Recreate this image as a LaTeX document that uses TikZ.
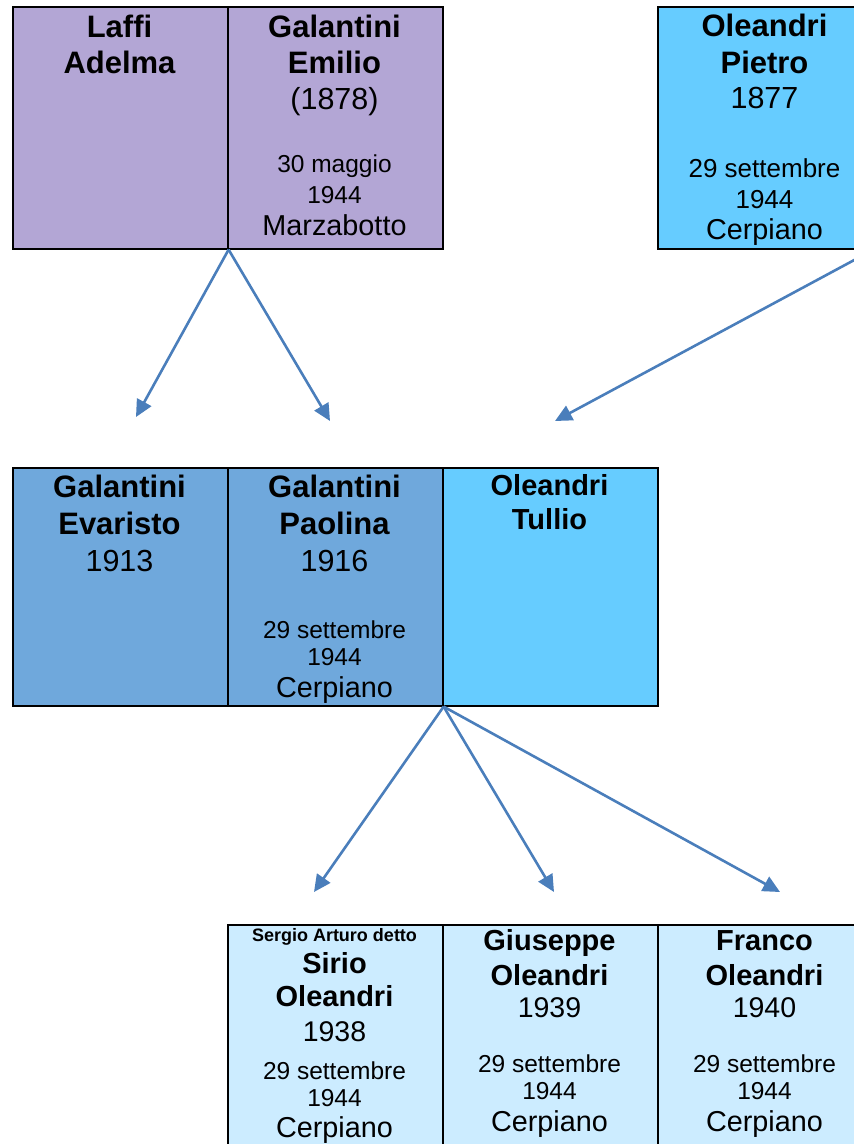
\documentclass[tikz,border=0pt]{standalone}
\usepackage{fontspec}
\setmainfont{Liberation Sans}
\usetikzlibrary{arrows.meta,positioning}
\definecolor{lilla}{HTML}{B3A6D5}
\definecolor{midblue}{HTML}{6FA8DC}
\definecolor{skyblue}{HTML}{66CCFF}
\definecolor{paleblue}{HTML}{CCECFF}
\definecolor{linkblue}{HTML}{4A7EBB}
\tikzset{
  cell/.style={draw=black, line width=1.6pt, minimum width=215pt, inner sep=0pt,
    anchor=north west},
  % text lines, all set on their baseline
  nmbig/.style={anchor=base, inner sep=0pt, font=\fontsize{31}{36}\selectfont\bfseries},
  nmsmall/.style={anchor=base, inner sep=0pt, font=\fontsize{29}{34}\selectfont\bfseries},
  nmtiny/.style={anchor=base, inner sep=0pt, font=\fontsize{18}{20}\selectfont\bfseries},
  yrbig/.style={anchor=base, inner sep=0pt, font=\fontsize{30.5}{36}\selectfont},
  yrsmall/.style={anchor=base, inner sep=0pt, font=\fontsize{28.5}{34}\selectfont},
  dday/.style={anchor=base, inner sep=0pt, font=\fontsize{24.5}{30}\selectfont},
  ddaybig/.style={anchor=base, inner sep=0pt, font=\fontsize{26}{30}\selectfont},
  place/.style={anchor=base, inner sep=0pt, font=\fontsize{28.8}{34}\selectfont},
  link/.style={-{Triangle[length=17pt,width=16pt]}, line width=2.6pt, color=linkblue},
}
\begin{document}
\begin{tikzpicture}[x=1pt,y=-1pt]
  \useasboundingbox (0,0) rectangle (854,1144);
  % first generation
  \node[cell, fill=lilla, minimum height=242pt] (laffi) at (12,6) {};
  \node[cell, fill=lilla, minimum height=242pt] (emilio) at (227,6) {};
  \node[cell, fill=skyblue, minimum height=242pt] (pietro) at (657,6) {};
  % second generation
  \node[cell, fill=midblue, minimum height=238pt] (evaristo) at (12,467) {};
  \node[cell, fill=midblue, minimum height=238pt] (paolina) at (227,467) {};
  \node[cell, fill=skyblue, minimum height=238pt] (tullio) at (442,467) {};
  % third generation
  \node[cell, fill=paleblue, minimum height=236pt] (sirio) at (227,924) {};
  \node[cell, fill=paleblue, minimum height=236pt] (giuseppe) at (442,924) {};
  \node[cell, fill=paleblue, minimum height=236pt] (franco) at (657,924) {};

  \foreach \xx/\yy/\s/\t [count=\k] in {
      119.5/37/nmbig/Laffi, 119.5/73/nmbig/Adelma,
      334.5/37/nmbig/Galantini, 334.5/73/nmbig/Emilio, 334.5/109/yrbig/(1878),
      334.5/172/dday/{30 maggio}, 334.5/203/dday/1944, 334.5/235/place/Marzabotto,
      764.5/36/nmbig/Oleandri, 764.5/73/nmbig/Pietro, 764.5/108/yrbig/1877,
      764.5/177/ddaybig/{29 settembre}, 764.5/208/ddaybig/1944, 764.5/239/place/Cerpiano,
      119.5/497/nmbig/Galantini, 119.5/534/nmbig/Evaristo, 119.5/571/yrbig/1913,
      334.5/497/nmbig/Galantini, 334.5/534/nmbig/Paolina, 334.5/571/yrbig/1916,
      334.5/638/dday/{29 settembre}, 334.5/665/dday/1944, 334.5/697/place/Cerpiano,
      549.5/495/nmsmall/Oleandri, 549.5/529/nmsmall/Tullio,
      334.5/941/nmtiny/{Sergio Arturo detto}, 334.5/973/nmsmall/Sirio,
      334.5/1006/nmsmall/Oleandri, 334.5/1041/yrsmall/1938,
      334.5/1079/dday/{29 settembre}, 334.5/1106/dday/1944, 334.5/1137/place/Cerpiano,
      549.5/950/nmsmall/Giuseppe, 549.5/985/nmsmall/Oleandri, 549.5/1017/yrsmall/1939,
      549.5/1072/dday/{29 settembre}, 549.5/1099/dday/1944, 549.5/1131/place/Cerpiano,
      764.5/950/nmsmall/Franco, 764.5/985/nmsmall/Oleandri, 764.5/1017/yrsmall/1940,
      764.5/1072/dday/{29 settembre}, 764.5/1099/dday/1944, 764.5/1131/place/Cerpiano} {
    \node[\s] (line\k) at (\xx,\yy) {\t};
  }

  % arrow ends
  \coordinate (to1) at (136,417);
  \coordinate (to2) at (330,421);
  \coordinate (to3) at (555,421);
  \coordinate (to4) at (314,892);
  \coordinate (to5) at (554,892);
  \coordinate (to6) at (780,892);
  \draw[link] (laffi.south east) -- (to1);
  \draw[link] (laffi.south east) -- (to2);
  \draw[link] (pietro.south east) -- (to3);
  \foreach \n in {4,5,6}
    \draw[link] (paolina.south east) -- (to\n);
\end{tikzpicture}
\end{document}
